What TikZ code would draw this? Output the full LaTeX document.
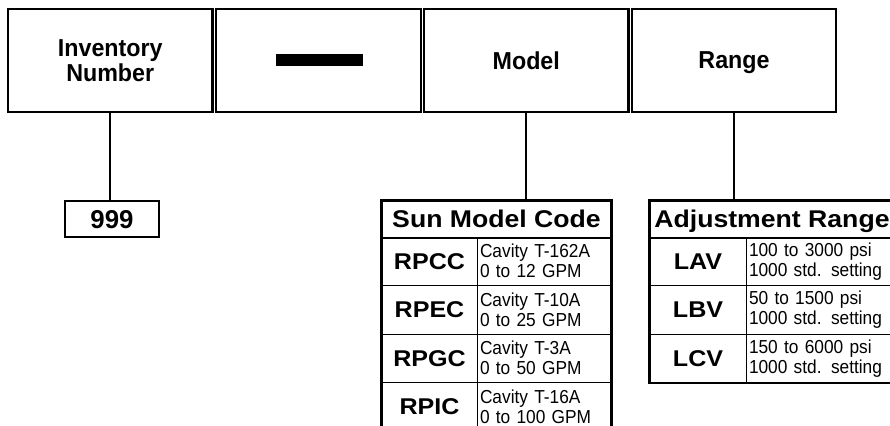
\documentclass[tikz,border=0pt]{standalone}
\usepackage{fontspec}
\setmainfont{Liberation Sans}
\newfontfamily\narrowsans[FakeStretch=0.92]{Liberation Sans}
\newfontfamily\tallsans[FakeStretch=0.95]{Liberation Sans}
\newfontfamily\widesans[FakeStretch=1.1]{Liberation Sans}
\newcommand{\labfont}{\tallsans\fontsize{24.5}{24.4}\selectfont\bfseries}
\newcommand{\headfont}{\widesans\fontsize{24.2}{26}\selectfont\bfseries}
\newcommand{\codefont}{\widesans\fontsize{22.8}{24}\selectfont\bfseries}
\newcommand{\notefont}{\narrowsans\fontsize{18.8}{20}\selectfont}
\newcommand{\numfont}{\fontsize{25.8}{26}\selectfont\bfseries}
\begin{document}
\begin{tikzpicture}[x=1pt,y=-1pt,
    field/.style={draw,line width=2.2pt,minimum width=204.5pt,minimum height=103pt,inner sep=0pt,align=center,text depth=0pt,font=\labfont},
    head/.style={draw,line width=1pt,minimum height=36pt,inner sep=0pt,text depth=0pt,font=\headfont},
    code/.style={draw,line width=1pt,minimum height=48.5pt,inner sep=0pt,text depth=0pt,font=\codefont},
    note/.style={draw,line width=1pt,minimum height=48.5pt,inner sep=3pt,align=left,font=\notefont}]
    \clip (0,0) rectangle (890,425);
    % part number fields
    \node (inv) [field] at (110.25,60.5) {Inventory\\Number};
    \node (sep) [field] at (318.5,60.5) {};
    \node (model) [field] at (526.25,60.5) {Model};
    \node (range) [field] at (734,60.5) {Range};
    \node (bar) [fill,minimum width=87pt,minimum height=12pt,inner sep=0pt] at (319.5,60) {};
    % inventory number
    \node (num) [draw,line width=2pt,minimum width=94pt,minimum height=36pt,inner sep=0pt,text depth=0pt,font=\numfont] at (112,219) {999};
    % sun model code table
    \node (sun) [head,minimum width=229pt] at (496.5,219) {Sun Model Code};
    \node (rpcc) [code,minimum width=95pt] at (429.5,261.25) {RPCC};
    \node (rpccval) [note,text width=128pt] at (544,261.25) {Cavity T-162A\\0 to 12 GPM};
    \node (rpec) [code,minimum width=95pt] at (429.5,309.75) {RPEC};
    \node (rpecval) [note,text width=128pt] at (544,309.75) {Cavity T-10A\\0 to 25 GPM};
    \node (rpgc) [code,minimum width=95pt] at (429.5,358.25) {RPGC};
    \node (rpgcval) [note,text width=128pt] at (544,358.25) {Cavity T-3A\\0 to 50 GPM};
    \node (rpic) [code,minimum width=95pt] at (429.5,406.75) {RPIC};
    \node (rpicval) [note,text width=128pt] at (544,406.75) {Cavity T-16A\\0 to 100 GPM};
    \draw [line width=2.4pt] (sun.north west) rectangle (rpicval.south east);
    \draw [line width=2pt] (sun.south west) -- (sun.south east);
    % adjustment range table
    \node (adj) [head,minimum width=244pt] at (772,219) {Adjustment Range};
    \node (lav) [code,minimum width=96pt] at (698,261.25) {LAV};
    \node (lavval) [note,text width=142pt] at (820,261.25) {100 to 3000 psi\\1000 std. setting};
    \node (lbv) [code,minimum width=96pt] at (698,309.75) {LBV};
    \node (lbvval) [note,text width=142pt] at (820,309.75) {50 to 1500 psi\\1000 std. setting};
    \node (lcv) [code,minimum width=96pt] at (698,358.25) {LCV};
    \node (lcvval) [note,text width=142pt] at (820,358.25) {150 to 6000 psi\\1000 std. setting};
    \draw [line width=2.4pt] (adj.north west) rectangle (lcvval.south east);
    \draw [line width=2pt] (adj.south west) -- (adj.south east);
    % connectors
    \draw [line width=2pt] (inv.south) -- (inv.south |- num.north);
    \draw [line width=2pt] (model.south) -- (model.south |- sun.north);
    \draw [line width=2pt] (range.south) -- (range.south |- adj.north);
\end{tikzpicture}
\end{document}
